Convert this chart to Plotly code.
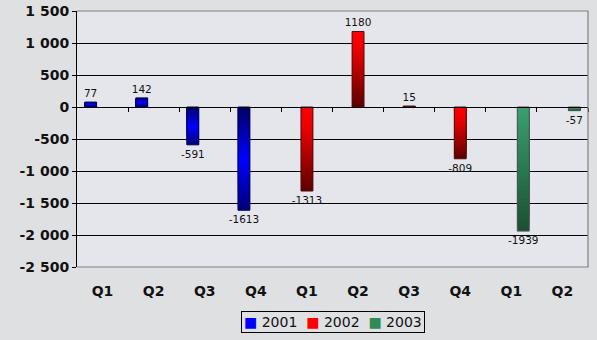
import plotly.graph_objects as go

# ---- data ----
quarters = ["Q1", "Q2", "Q3", "Q4", "Q1", "Q2", "Q3", "Q4", "Q1", "Q2"]
series_names = ["2001", "2002", "2003"]
values_2001 = [77, 142, -591, -1613, None, None, None, None, None, None]
values_2002 = [None, None, None, None, -1313, 1180, 15, -809, None, None]
values_2003 = [None, None, None, None, None, None, None, None, -1939, -57]
y_tick_values = [-2500, -2000, -1500, -1000, -500, 0, 500, 1000, 1500]
y_tick_labels = ["-2 500", "-2 000", "-1 500", "-1 000", "-500", "0", "500", "1 000", "1 500"]

# ---- style ----
FONT = "DejaVu Sans"
positions = list(range(len(quarters)))
group_w = 0.70
bar_w = group_w / 3
# vertical (screen) gradients: list of (t, rgb) where t=0 top, t=1 bottom
gradients = {
    "2001": [(0.0, (0, 0, 96)), (0.5, (0, 0, 255)), (1.0, (0, 0, 120))],
    "2002": [(0.0, (255, 0, 0)), (0.25, (235, 0, 0)), (1.0, (92, 0, 0))],
    "2003": [(0.0, (58, 160, 112)), (1.0, (26, 80, 50))],
}
legend_colors = {"2001": "#0000ff", "2002": "#ff0000", "2003": "#2e8b57"}
outline = {"2001": "#000050", "2002": "#4a1010", "2003": "#505050"}


def grad_color(stops, t):
    for (t0, c0), (t1, c1) in zip(stops, stops[1:]):
        if t <= t1:
            u = (t - t0) / (t1 - t0) if t1 > t0 else 0
            c = [round(a + (b - a) * u) for a, b in zip(c0, c1)]
            return "rgb(%d,%d,%d)" % tuple(c)
    return "rgb(%d,%d,%d)" % stops[-1][1]


fig = go.Figure()
N = 30
all_series = [values_2001, values_2002, values_2003]
for si, (name, vals) in enumerate(zip(series_names, all_series)):
    off = -group_w / 2 + si * bar_w
    stops = gradients[name]
    for k in range(N):
        f_hi = (N - k) / N
        f_lo = (N - k - 1) / N
        f_mid = (f_hi + f_lo) / 2
        ys, cols = [], []
        for v in vals:
            if v is None:
                ys.append(None)
                cols.append("rgba(0,0,0,0)")
                continue
            ys.append(v * f_hi)
            t = (1 - f_mid) if v >= 0 else f_mid
            cols.append(grad_color(stops, t))
        fig.add_trace(go.Bar(
            x=positions, y=ys, offset=off, width=bar_w,
            marker=dict(color=cols, line=dict(width=0)),
            showlegend=False, hoverinfo="skip", xaxis="x", yaxis="y",
        ))
    # outline + labels on top
    fig.add_trace(go.Bar(
        x=positions, y=vals, offset=off, width=bar_w, name=name,
        marker=dict(color="rgba(0,0,0,0)", line=dict(width=1, color=outline[name])),
        text=[("" if v is None else str(v)) for v in vals],
        textposition="outside", cliponaxis=False, constraintext="none",
        textfont=dict(family=FONT, size=10.5, color="#111111"),
        showlegend=False, xaxis="x2", yaxis="y",
    ))

legend_text = "  ".join(
    "<span style='color:%s'>■</span> %s" % (legend_colors[n], n) for n in series_names
)

fig.update_layout(
    width=597, height=340,
    margin=dict(l=77, r=9, t=11, b=73, autoexpand=False),
    paper_bgcolor="#dfe0e2",
    plot_bgcolor="#e4e6ec",
    barmode="overlay",
    showlegend=False,
    xaxis=dict(
        range=[-0.5, len(quarters) - 0.5], automargin=False,
        tickvals=positions, ticktext=quarters,
        showgrid=False, zeroline=False, showline=False, ticks="",
        tickfont=dict(family=FONT, size=14, color="#111111", weight="bold"),
        ticklabelstandoff=14,
    ),
    xaxis2=dict(
        matches="x", overlaying="x", anchor="free", position=0.625, automargin=False,
        range=[-0.5, len(quarters) - 0.5],
        tickvals=[p + 0.5 for p in positions],
        showticklabels=False, ticks="outside", ticklen=4, tickcolor="#000000",
        showline=True, linecolor="#000000", linewidth=1, showgrid=False, zeroline=False,
    ),
    yaxis=dict(
        range=[-2500, 1500], tickvals=y_tick_values, ticktext=y_tick_labels,
        automargin=False,
        showgrid=True, gridcolor="#000000", gridwidth=1,
        zeroline=True, zerolinecolor="#000000", zerolinewidth=1,
        showline=True, linecolor="#000000", linewidth=1,
        ticks="outside", ticklen=4, tickcolor="#000000",
        tickfont=dict(family=FONT, size=14, color="#111111", weight="bold"),
    ),
    shapes=[dict(type="path", xref="paper", yref="paper",
                 path="M0,1 L1,1 L1,0 L0,0",
                 line=dict(color="#808080", width=1.2), layer="above")],
    annotations=[dict(
        text=legend_text, xref="paper", yref="paper", x=0.5, y=-0.215,
        xanchor="center", yanchor="middle", showarrow=False,
        font=dict(family=FONT, size=14, color="#111111"),
        bordercolor="#000000", borderwidth=1, borderpad=2,
    )],
)

fig.write_html("out.html")
